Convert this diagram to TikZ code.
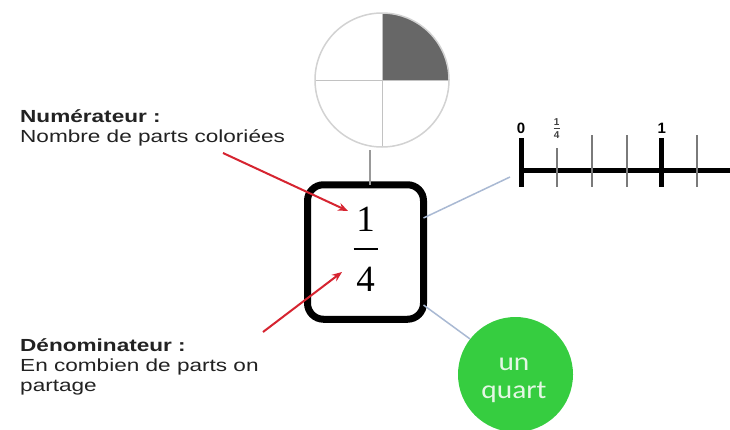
\documentclass[tikz,border=0pt]{standalone}
\usepackage{fontspec}
\newfontfamily\labelfont[FakeStretch=1.29]{Liberation Sans}
\newfontfamily\tickfont{Liberation Sans}
\newfontfamily\fracfont{Liberation Serif}
\newfontfamily\roundfont[FakeStretch=1.13]{Carlito}
\usetikzlibrary{calc,arrows.meta}

\definecolor{textgray}{HTML}{222222}
\definecolor{arrowred}{HTML}{D62430}
\definecolor{linkblue}{HTML}{A9B9D3}
\definecolor{piegray}{HTML}{D2D2D2}
\definecolor{piegrid}{HTML}{C2C2C2}
\definecolor{piedark}{HTML}{676767}
\definecolor{tickgray}{HTML}{7A7A7A}
\definecolor{quartgreen}{HTML}{36CD40}
\definecolor{quarttext}{HTML}{E4F7E4}

% a fraction stacked by hand: numerator, bar, denominator
\newcommand\stackedfrac[2]{\vbox{\offinterlineskip
  \hbox to 24pt{\hss#1\hss}\kern17pt\hrule height 2pt\kern17pt
  \hbox to 24pt{\hss#2\hss}}}

\begin{document}
\begin{tikzpicture}[x=1pt,y=-1pt,
  caption/.style={font=\labelfont\fontsize{17.5pt}{20pt}\selectfont,
    text=textgray, align=left, inner sep=0, anchor=base west},
  pointer/.style={draw=arrowred, line width=2pt,
    -{Stealth[length=10pt,width=8pt]}},
  link/.style={draw=linkblue, line width=1.5pt},
  thintick/.style={draw=tickgray, line width=2pt},
  thicktick/.style={draw=black, line width=5pt},
  ticklabel/.style={font=\tickfont\bfseries\fontsize{15pt}{15pt}\selectfont,
    inner sep=0, anchor=base}]
\useasboundingbox (0,0) rectangle (730,429);
\fill[white] (0,0) rectangle (730,429);

% pie cut into four, one quarter shaded
\node[circle, minimum size=134pt, inner sep=0, outer sep=0] (pie) at (382,80) {};
\fill[piedark] (pie.center) -- (pie.north) arc[start angle=-90, end angle=0, radius=67] -- cycle;
\draw[piegrid, line width=1pt] (pie.north) -- (pie.south) (pie.west) -- (pie.east);
\draw[piegray, line width=1.5pt] (pie.center) circle[radius=67];

% the fraction in its rounded frame
\node[draw=black, line width=7pt, rounded corners=16pt, minimum width=116pt,
  minimum height=134.5pt, inner sep=0, outer sep=0] (box) at (365.5,252) {};
\node[inner sep=0, font=\fracfont\fontsize{37pt}{37pt}\selectfont] (frac) at (365.5,249.2)
  {\stackedfrac{1}{4}};

% number line
\coordinate (nl0) at (521,170);
\coordinate (nlend) at (731,170);
\draw[black, line width=5pt] (nl0) -- (nlend);
\foreach \x in {591.7,626.7,696.7}
  \draw[thintick] (\x,135) -- (\x,187);
\draw[thintick] (556.7,148) -- (556.7,187);
\draw[thicktick] (521,138) -- (521,187);
\draw[thicktick] (661.7,138) -- (661.7,187);
\node[ticklabel] (lab0) at (521,133) {0};
\node[ticklabel] (lab1) at (661.7,133) {1};
\node[inner sep=0, text=black!75, font=\tickfont\bfseries\fontsize{10pt}{10pt}\selectfont] (labq)
  at (556.7,128.5) {\vbox{\offinterlineskip\hbox to 6pt{\hss1\hss}\kern2.5pt
  \hrule height 0.8pt\kern2.5pt\hbox to 6pt{\hss4\hss}}};

% word form
\node[circle, fill=quartgreen, minimum size=115pt, inner sep=0] (quart) at (515.5,374.5) {};
\node[font=\roundfont\fontsize{26pt}{28pt}\selectfont, text=quarttext,
  align=center, inner sep=0, anchor=base] (quarttxt) at (514,398) {un\\quart};

% links from the frame to each representation
\coordinate (pietail) at (370,150);
\draw[draw=gray!80, line width=1.5pt] (pietail) -- (pietail |- box.north);
\draw[link] ($(box.east)+(0,-34)$) -- ($(nl0)+(-11,7)$);
\draw[link] ($(box.east)+(0,53)$) -- (quart.142);

% captions and their pointers
\node[caption] (numcap) at (20,142) {\bfseries Numérateur :\\Nombre de parts coloriées};
\node[caption] (dencap) at (20,391) {\bfseries Dénominateur :\\En combien de parts on\\partage};
\coordinate (numtail) at (223,153);
\coordinate (numhead) at (348,211);
\coordinate (dentail) at (263,332);
\coordinate (denhead) at (342,272);
\draw[pointer] (numtail) -- (numhead);
\draw[pointer] (dentail) -- (denhead);
\end{tikzpicture}
\end{document}
